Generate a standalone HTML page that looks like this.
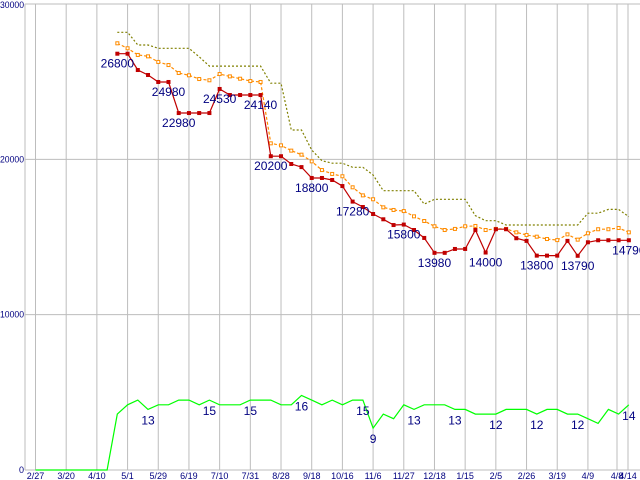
<!DOCTYPE html>
<html><head><meta charset="utf-8"><style>
html,body{margin:0;padding:0;background:#fff;}
svg{display:block;font-family:"Liberation Sans",sans-serif;}
</style></head><body>
<svg id="chart" width="640" height="480" viewBox="0 0 640 480" xmlns="http://www.w3.org/2000/svg">
<g id="grid"></g>
<g id="axes"></g>
<g id="series"></g>
<g id="labels"></g>
</svg>
<script>
const xTickLabels = ["2/27","3/20","4/10","5/1","5/29","6/19","7/10","7/31","8/28","9/18","10/16","11/6","11/27","12/18","1/15","2/5","2/26","3/19","4/9","4/8","4/14"];
const yTicks = [0,10000,20000,30000];
const minPrice = [null,null,null,null,null,null,null,null,26800,26800,25750,25430,24980,24980,22980,22980,22980,22980,24530,24140,24140,24140,24140,20200,20200,19700,19500,18800,18800,18670,18280,17280,16930,16480,16140,15770,15800,15450,14940,13980,13980,14230,14230,15450,14000,15500,15500,14920,14750,13800,13800,13800,14750,13790,14660,14790,14790,14790,14790];
const avgPrice = [null,null,null,null,null,null,null,null,27470,27150,26720,26630,26270,26070,25560,25410,25170,25090,25490,25340,25190,25040,24980,21030,20900,20560,20300,19870,19310,19060,18910,18200,17680,17430,16910,16740,16670,16330,16030,15690,15450,15520,15690,15710,15450,15520,15520,15300,15130,15020,14870,14800,15170,14830,15240,15500,15500,15580,15300];
const maxPrice = [null,null,null,null,null,null,null,null,28180,28180,27360,27360,27150,27150,27150,27150,26600,26000,26000,26000,26000,26000,26000,24900,24900,21890,21890,20600,19910,19750,19750,19490,19490,18990,17980,17980,17980,17980,17120,17430,17430,17430,17430,16370,16050,16050,15770,15770,15770,15770,15770,15770,15770,15770,16530,16530,16780,16780,16310];
const shopCount = [0,0,0,0,0,0,0,0,12,14,15,13,14,14,15,15,14,15,14,14,14,15,15,15,14,14,16,15,14,15,14,15,15,9,12,11,14,13,14,14,14,13,13,12,12,12,13,13,13,12,13,13,12,12,11,10,13,12,14];
const priceLabelIdx = [8,13,14,18,22,23,27,31,36,39,44,49,53,58];
const countLabelIdx = [11,17,21,26,32,33,37,41,45,49,53,58];
const countScale = 300;

const NS="http://www.w3.org/2000/svg";
const X0=35.5, DX=10.23, Y0=470, KY=(470-4)/30000;
function xOf(i){return X0+i*DX;}
function yOf(v){return Y0-v*KY;}
function mk(tag,attrs,parent){const e=document.createElementNS(NS,tag);for(const k in attrs)e.setAttribute(k,attrs[k]);parent.appendChild(e);return e;}
const grid=document.getElementById('grid'),axes=document.getElementById('axes'),series=document.getElementById('series'),labels=document.getElementById('labels');

const extraX=[617,628,638];
xTickLabels.forEach((t,k)=>{
  const x = k<19 ? xOf(k*3) : extraX[k-19];
  const l=mk('line',{x1:x,y1:4,x2:x,y2:470,stroke:'#bdbdbd','stroke-width':1},grid);
  
  
  const tx=mk('text',{x:x,y:479,'font-size':9,fill:'#000080','text-anchor':'middle'},axes);
  tx.textContent=t;
  
  
});
yTicks.forEach(v=>{
  const y=yOf(v);
  const l=mk('line',{x1:25,y1:y,x2:640,y2:y,stroke:'#bdbdbd','stroke-width':1},grid);
  
  
  const s=String(v);
  const attrs={x:v===0?19:0,y:Math.max(y+3,8),'font-size':9,fill:'#000080'};
  if(s.length>1){attrs.textLength=24;attrs.lengthAdjust='spacingAndGlyphs';}
  const tx=mk('text',attrs,axes);
  tx.textContent=s;
  
  
});
const la=mk('line',{x1:25,y1:4,x2:25,y2:470,stroke:'#bdbdbd'},axes);



function pts(arr,scale){const p=[];arr.forEach((v,i)=>{if(v!==null)p.push(xOf(i).toFixed(1)+','+yOf(v*scale).toFixed(1));});return p.join(' ');}

const g=mk('polyline',{points:pts(shopCount,countScale),fill:'none',stroke:'#00ff00','stroke-width':1.2},series);


const mx=mk('polyline',{points:pts(maxPrice,1),fill:'none',stroke:'#808000','stroke-width':1.2,'stroke-dasharray':'2,2'},series);


const av=mk('polyline',{points:pts(avgPrice,1),fill:'none',stroke:'#ff8c00','stroke-width':1.2,'stroke-dasharray':'3,2'},series);


avgPrice.forEach((v,i)=>{if(v===null)return;
  const r=mk('rect',{x:xOf(i)-1.5,y:yOf(v)-1.5,width:3,height:3,fill:'#fff',stroke:'#ff8c00','stroke-width':1},series);
  
  
});
const mn=mk('polyline',{points:pts(minPrice,1),fill:'none',stroke:'#c00000','stroke-width':1.2},series);


minPrice.forEach((v,i)=>{if(v===null)return;
  const r=mk('rect',{x:xOf(i)-2,y:yOf(v)-2,width:4,height:4,fill:'#c00000'},series);
  
  
});
priceLabelIdx.forEach(i=>{
  const t=mk('text',{x:xOf(i),y:yOf(minPrice[i])+14,'font-size':12,fill:'#000080','text-anchor':'middle'},labels);
  t.textContent=String(minPrice[i]);
  
  
});
countLabelIdx.forEach(i=>{
  const t=mk('text',{x:xOf(i),y:yOf(shopCount[i]*countScale)+15,'font-size':12,fill:'#000080','text-anchor':'middle'},labels);
  t.textContent=String(shopCount[i]);
  
  
});
</script>
</body></html>
